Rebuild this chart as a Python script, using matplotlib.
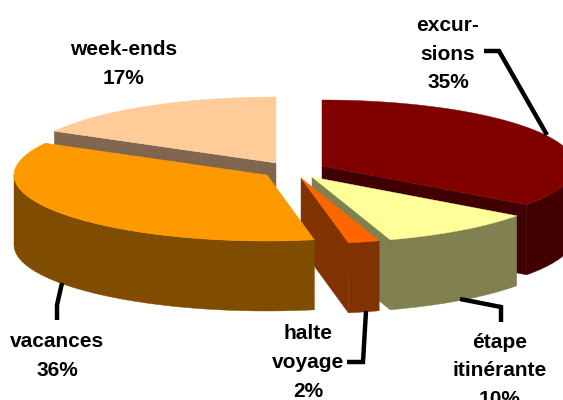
import numpy as np
import matplotlib
matplotlib.use("Agg")
import matplotlib.pyplot as plt
from matplotlib.patches import Polygon

# slices, clockwise from 12 o'clock
shares = [35, 10, 2, 36, 17]
labels = ["excur-\nsions\n35%", "étape\nitinérante\n10%", "halte\nvoyage\n2%", "vacances\n36%", "week-ends\n17%"]

# look of each slice
top_colors = ["#800000", "#FFFF99", "#FF6600", "#FF9900", "#FFCC99"]
side_colors = ["#400000", "#808050", "#803300", "#804D00", "#806650"]
apexes = [(322, 166), (312, 177), (301, 178), (267, 175), (276, 163)]
label_pos = [(448, 54), (500, 371), (308, 362.5), (57, 356), (124, 64)]
leaders = [
    ([484, 499, 547], [51, 51, 135]),
    ([460, 501, 501], [299, 307, 322]),
    ([347, 363, 366], [362, 362, 311]),
    ([62, 57, 57], [283, 305, 320]),
]

rx, ry, depth = 253, 66, 70
draw_order = [4, 0, 1, 2, 3]


def rim(apex, t0, t1):
    t = np.radians(np.linspace(t0, t1, max(int(t1 - t0) * 2, 2)))
    return np.column_stack([apex[0] + rx * np.sin(t), apex[1] - ry * np.cos(t)])


plt.rcParams["font.family"] = ["Liberation Sans", "DejaVu Sans"]
fig = plt.figure(figsize=(5.63, 4), dpi=100)
ax = fig.add_axes([0, 0, 1, 1])
ax.set_xlim(0, 563)
ax.set_ylim(400, 0)
ax.axis("off")

edges = np.concatenate([[0], np.cumsum(shares)]) * 3.6
down = np.array([0, depth])

for i in draw_order:
    t0, t1 = edges[i], edges[i + 1]
    apex = np.array(apexes[i], dtype=float)

    # cut faces that look towards the viewer
    if np.cos(np.radians(t0 - 90)) < 0:
        p = rim(apex, t0, t0)[0]
        ax.add_patch(Polygon([apex, p, p + down, apex + down], fc=side_colors[i], ec=side_colors[i], lw=0.3))
    if np.cos(np.radians(t1 + 90)) < 0:
        p = rim(apex, t1, t1)[0]
        ax.add_patch(Polygon([apex, p, p + down, apex + down], fc=side_colors[i], ec=side_colors[i], lw=0.3))

    # outer wall, only the front half of the ellipse shows
    a, b = max(t0, 90), min(t1, 270)
    if a < b:
        r = rim(apex, a, b)
        ax.add_patch(Polygon(np.vstack([r, r[::-1] + down]), fc=side_colors[i], ec=side_colors[i], lw=0.3))

    r = rim(apex, t0, t1)
    ax.add_patch(Polygon(np.vstack([apex, r]), fc=top_colors[i], ec=top_colors[i], lw=0.3))

for xs, ys in leaders:
    ax.plot(xs, ys, color="black", lw=3.2, solid_joinstyle="miter", solid_capstyle="butt")

for text, (x, y) in zip(labels, label_pos):
    ax.text(x, y, text, ha="center", va="center", fontsize=15, fontweight="bold", linespacing=1.65, color="black")

fig.savefig("out.png", dpi=100)
